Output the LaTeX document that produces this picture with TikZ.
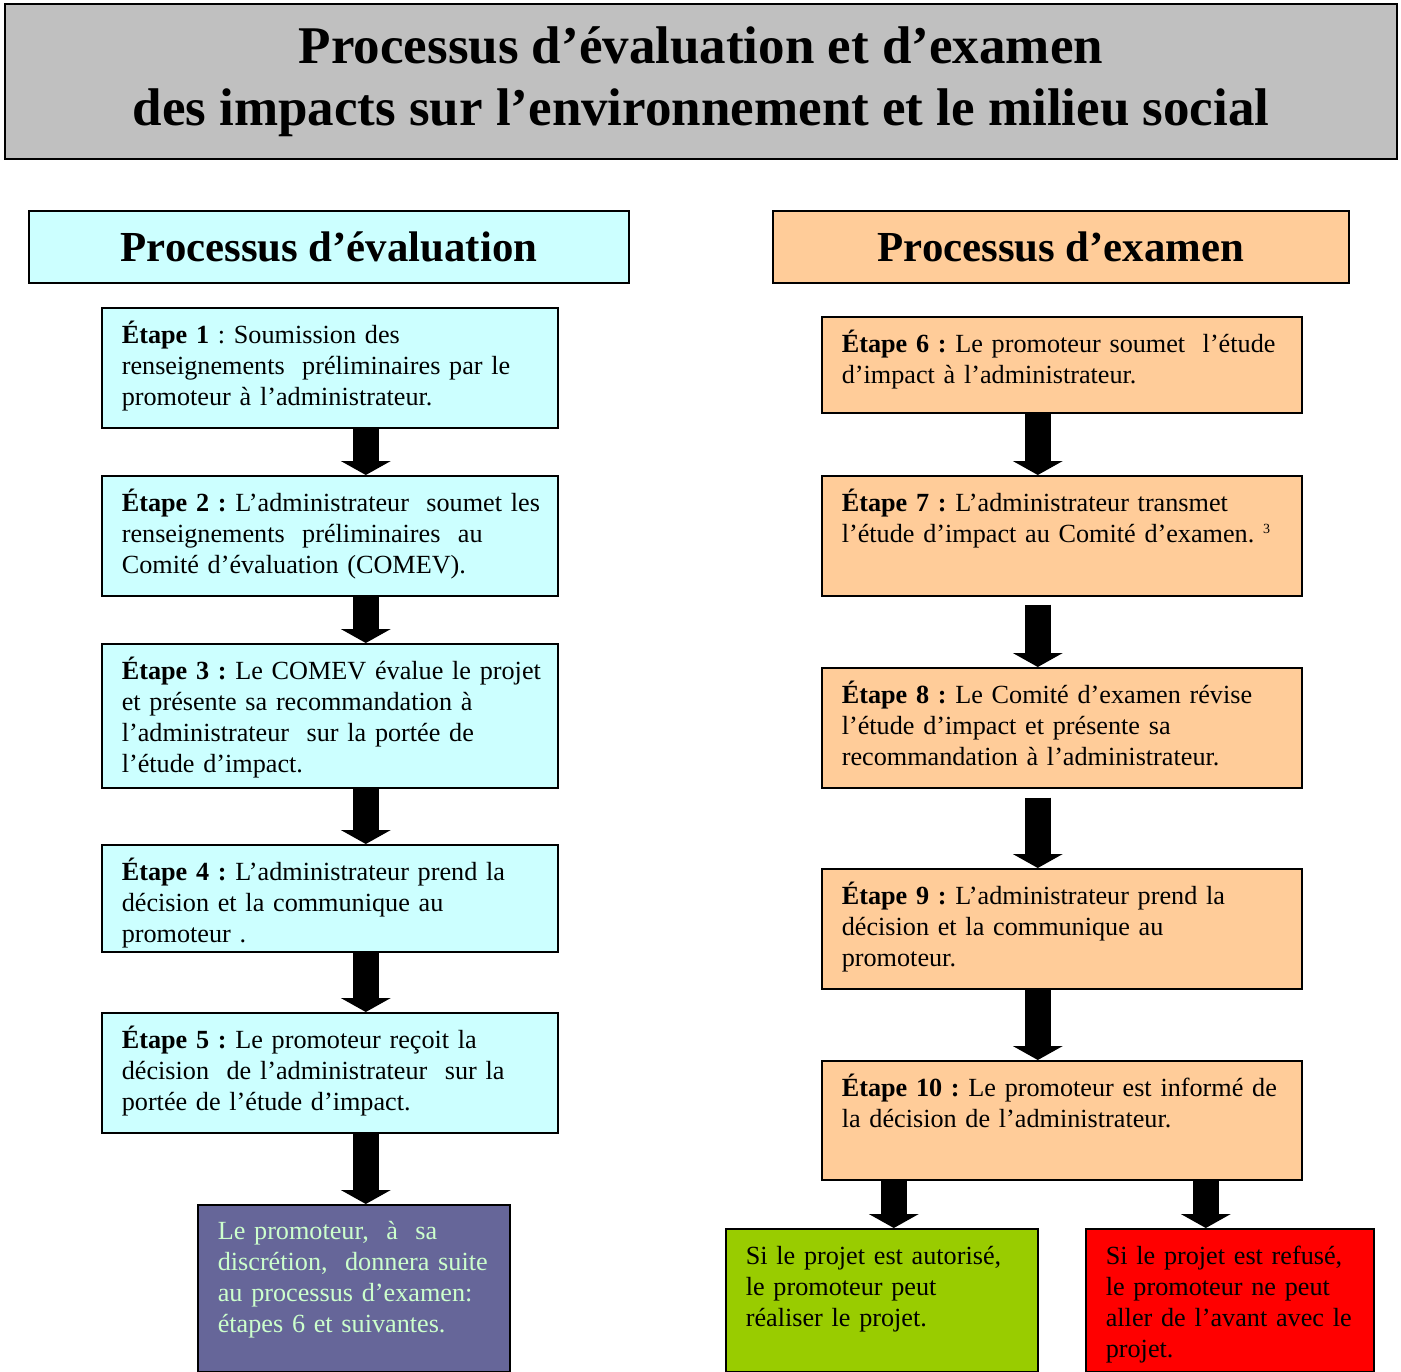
\documentclass[tikz,border=0pt]{standalone}
\usepackage{fontspec}
\setmainfont{Liberation Serif}
\usetikzlibrary{arrows.meta}
\frenchspacing

\definecolor{titlegray}{HTML}{C0C0C0}
\definecolor{evalcyan}{HTML}{CCFFFF}
\definecolor{examorange}{HTML}{FFCC99}
\definecolor{suitepurple}{HTML}{666699}
\definecolor{suitetext}{HTML}{CCFFCC}
\definecolor{okgreen}{HTML}{99CC00}
\definecolor{nored}{HTML}{FF0000}

\tikzset{
    headbox/.style={draw, line width=1.6pt, inner sep=0pt, align=center},
    stepbox/.style={draw, line width=1.6pt, anchor=north west, inner xsep=20pt, inner ysep=0pt,
        align=left, text height=36pt, font=\fontsize{26.2}{31}\selectfont},
    evalbox/.style={stepbox, fill=evalcyan, text width=416pt},
    exambox/.style={stepbox, fill=examorange, text width=440pt},
    bigarrow/.style={line width=26pt, -{Triangle[length=14pt, width=50pt, line width=0pt]}}
}

\begin{document}
\begin{tikzpicture}[x=1pt, y=-1pt]
    \useasboundingbox (0,0) rectangle (1401,1372);

    % Title and the two headers
    \node[headbox, fill=titlegray, minimum width=1392pt, minimum height=155pt,
        font=\bfseries\fontsize{53}{62}\selectfont] (title) at (701,81.5)
        {Processus d’évaluation et d’examen\\des impacts sur l’environnement et le milieu social};
    \node[headbox, fill=evalcyan, minimum width=600pt, minimum height=72pt,
        font=\bfseries\fontsize{42.8}{50}\selectfont] (evalhead) at (329,247) {Processus d’évaluation};
    \node[headbox, fill=examorange, minimum width=576pt, minimum height=72pt,
        font=\bfseries\fontsize{42.8}{50}\selectfont] (examhead) at (1061,247) {Processus d’examen};

    % Evaluation steps
    \node[evalbox, text depth=84pt] (s1) at (101,307)
        {\textbf{Étape 1} : Soumission des\\renseignements\ \ préliminaires par le\\promoteur à l’administrateur.};
    \node[evalbox, text depth=84pt] (s2) at (101,475)
        {\mbox{\textbf{Étape 2 :} L’administrateur\ \ soumet les}\\renseignements\ \ préliminaires\ \ au\\Comité d’évaluation (COMEV).};
    \node[evalbox, text depth=108pt] (s3) at (101,643)
        {\mbox{\textbf{Étape 3 :} Le COMEV évalue le projet}\\et présente sa recommandation à\\l’administrateur\ \ sur la portée de\\l’étude d’impact.};
    \node[evalbox, text depth=71pt] (s4) at (101,844)
        {\textbf{Étape 4 :} L’administrateur prend la\\décision et la communique au\\promoteur .};
    \node[evalbox, text depth=84pt] (s5) at (101,1012)
        {\textbf{Étape 5 :} Le promoteur reçoit la\\décision\ \ de l’administrateur\ \ sur la\\portée de l’étude d’impact.};
    \node[stepbox, fill=suitepurple, text=suitetext, text width=272pt, text height=35pt, text depth=132pt] (suite) at (197,1204)
        {Le promoteur,\ \ à\ \ sa\\\mbox{discrétion,\ \ donnera suite}\\au processus d’examen:\\étapes 6 et suivantes.};

    % Examination steps
    \node[exambox, text depth=60pt] (s6) at (821,316)
        {\textbf{Étape 6 :} Le promoteur soumet\ \ l’étude\\d’impact à l’administrateur.};
    \node[exambox, text depth=84pt] (s7) at (821,475)
        {\textbf{Étape 7 :} L’administrateur transmet\\l’étude d’impact au Comité d’examen.\ \raisebox{9pt}{\fontsize{14}{14}\selectfont 3}};
    \node[exambox, text depth=84pt] (s8) at (821,667)
        {\textbf{Étape 8 :} Le Comité d’examen révise\\l’étude d’impact et présente sa\\recommandation à l’administrateur.};
    \node[exambox, text depth=84pt] (s9) at (821,868)
        {\textbf{Étape 9 :} L’administrateur prend la\\décision et la communique au\\promoteur.};
    \node[exambox, text depth=83pt] (s10) at (821,1060)
        {\mbox{\textbf{Étape 10 :} Le promoteur est informé de}\\la décision de l’administrateur.};
    \node[stepbox, fill=okgreen, text width=272pt, text depth=107pt] (ok) at (725,1228)
        {Si le projet est autorisé,\\le promoteur peut\\réaliser le projet.};
    \node[stepbox, fill=nored, text width=248pt, text depth=107pt] (no) at (1085,1228)
        {Si le projet est refusé,\\le promoteur ne peut\\\mbox{aller de l’avant avec le}\\projet.};

    % Draw the arrows
    \draw[bigarrow] ([xshift=36pt]s1.south) -- ([xshift=36pt]s2.north);
    \draw[bigarrow] ([xshift=36pt]s2.south) -- ([xshift=36pt]s3.north);
    \draw[bigarrow] ([xshift=36pt]s3.south) -- ([xshift=36pt]s4.north);
    \draw[bigarrow] ([xshift=36pt]s4.south) -- ([xshift=36pt]s5.north);
    \draw[bigarrow] ([xshift=36pt]s5.south) -- ([xshift=12pt]suite.north);

    \draw[bigarrow] ([xshift=-24pt]s6.south) -- ([xshift=-24pt]s7.north);
    \draw[bigarrow] ([xshift=-24pt, yshift=-8pt]s7.south) -- ([xshift=-24pt]s8.north);
    \draw[bigarrow] ([xshift=-24pt, yshift=-9pt]s8.south) -- ([xshift=-24pt]s9.north);
    \draw[bigarrow] ([xshift=-24pt]s9.south) -- ([xshift=-24pt]s10.north);
    \draw[bigarrow] ([xshift=-168pt]s10.south) -- ([xshift=12pt]ok.north);
    \draw[bigarrow] ([xshift=144pt]s10.south) -- ([xshift=-24pt]no.north);
\end{tikzpicture}
\end{document}
